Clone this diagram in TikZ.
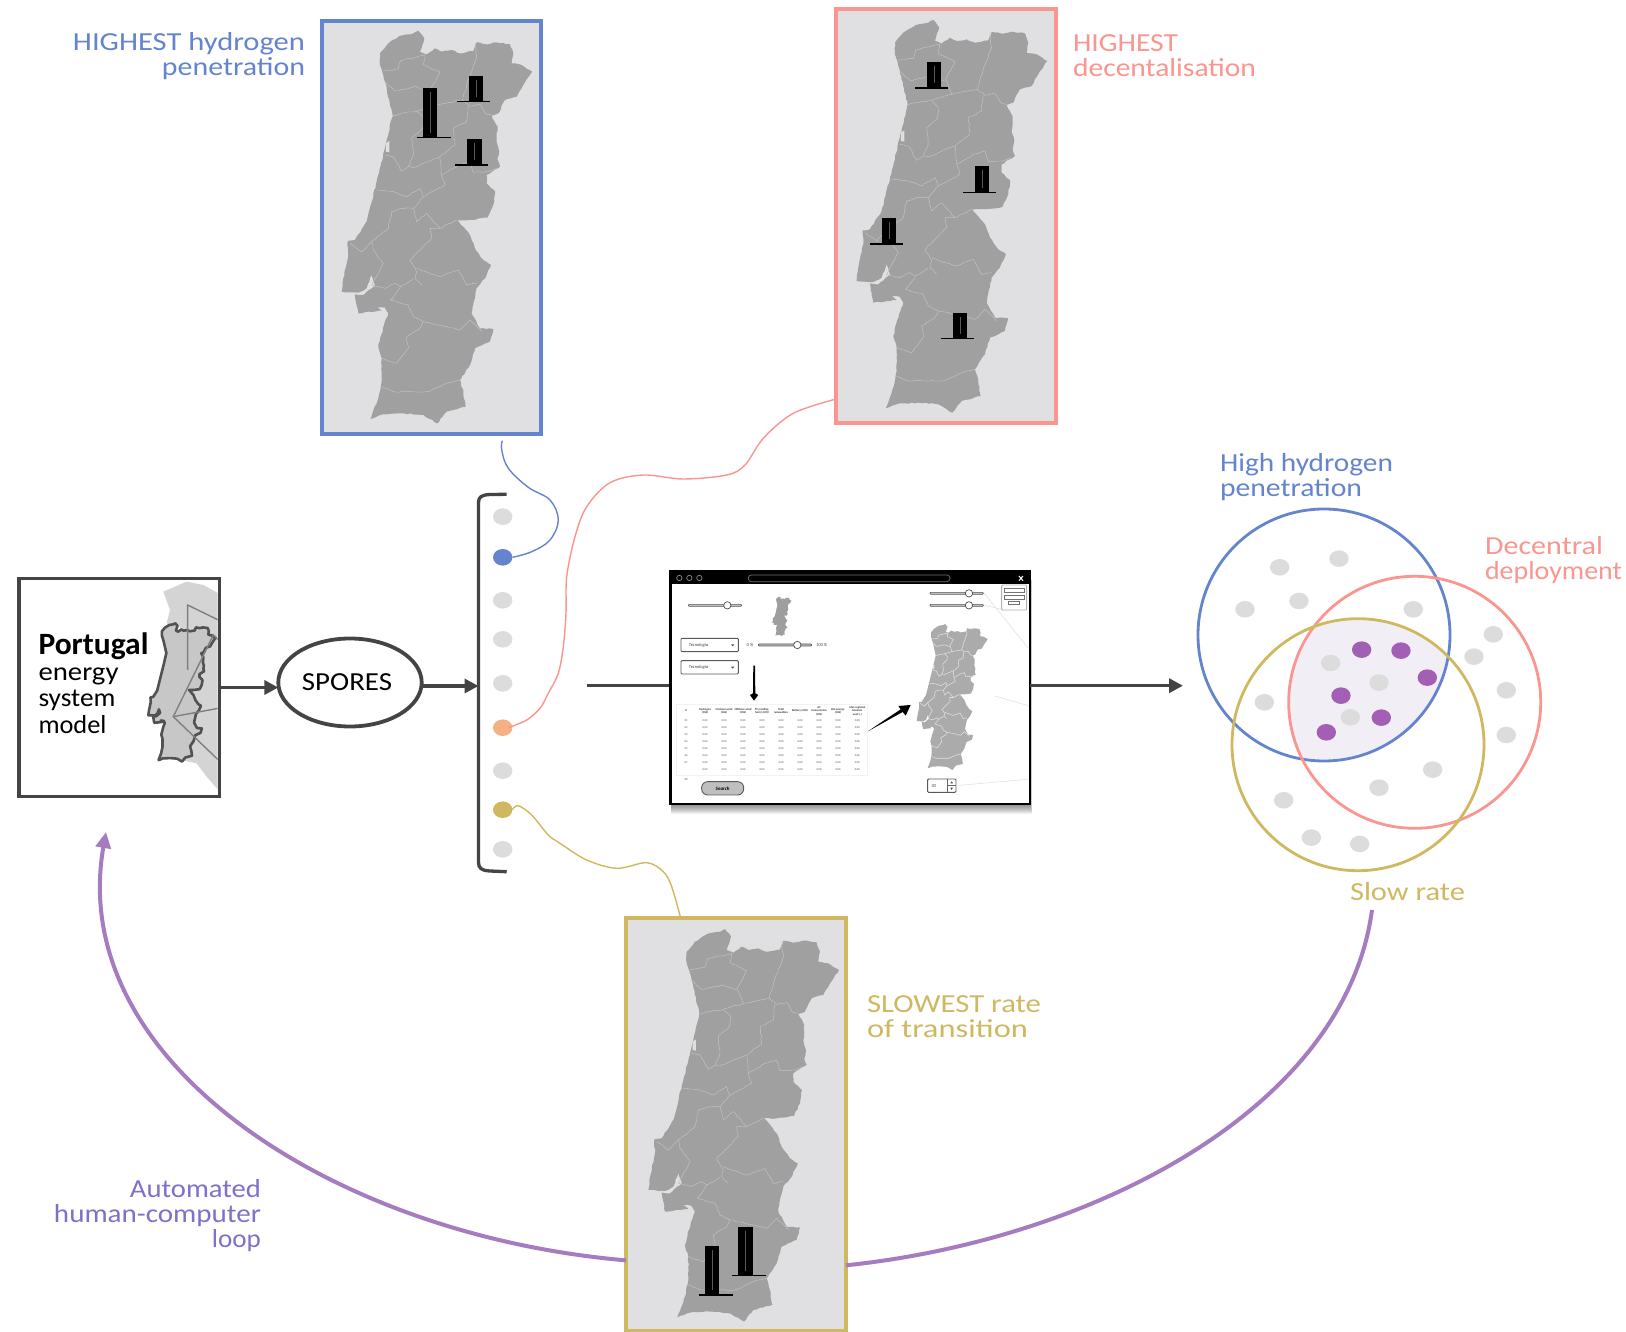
\documentclass[tikz,border=0pt]{standalone}
\usepackage{fontspec}
\usepackage{graphicx}
\setmainfont{Carlito}
\usetikzlibrary{arrows.meta,shapes.geometric,calc,decorations.pathmorphing}
\definecolor{cblue}{HTML}{6484CE}
\definecolor{csal}{HTML}{FB9590}
\definecolor{cgold}{HTML}{CFB960}
\definecolor{cpur}{HTML}{A57CC0}
\definecolor{cvio}{HTML}{8070C8}
\definecolor{cdark}{HTML}{444444}
\definecolor{cland}{HTML}{A0A0A0}
\definecolor{cpanel}{HTML}{E0E0E2}
\definecolor{cdot}{HTML}{DCDCDC}
\definecolor{cmag}{HTML}{A25FB4}
\definecolor{corange}{HTML}{F4B183}
\definecolor{ccore}{HTML}{F1EFF5}
\newcommand\fitw[2]{\resizebox{#1pt}{\height}{#2}}
\newcommand\ptoutline{(200,125) -- (225,95) -- (262,72) -- (300,65) -- (315,57) -- (333,80) -- (320,120) -- (340,128) -- (365,110) -- (385,120) -- (415,115) -- (440,125) -- (480,118) -- (490,92) -- (520,98) -- (550,92) -- (590,97) -- (600,125) -- (595,155) -- (625,160) -- (657,180) -- (630,220) -- (610,255) -- (575,265) -- (555,305) -- (535,312) -- (553,345) -- (550,390) -- (558,420) -- (553,445) -- (560,465) -- (520,490) -- (520,515) -- (546,540) -- (540,580) -- (522,618) -- (470,625) -- (432,625) -- (470,670) -- (485,710) -- (510,745) -- (533,760) -- (515,800) -- (490,830) -- (478,885) -- (475,905) -- (500,950) -- (540,952) -- (530,990) -- (485,1010) -- (470,1060) -- (440,1105) -- (450,1140) -- (457,1185) -- (400,1200) -- (372,1235) -- (330,1210) -- (270,1205) -- (210,1208) -- (172,1222) -- (195,1160) -- (205,1110) -- (205,1040) -- (195,1005) -- (212,940) -- (225,905) -- (215,888) -- (190,885) -- (205,897) -- (135,905) -- (125,848) -- (150,850) -- (185,820) -- (175,790) -- (160,830) -- (135,843) -- (85,840) -- (90,800) -- (105,730) -- (103,688) -- (125,685) -- (160,630) -- (190,510) -- (215,410) -- (238,310) -- (215,210) -- (200,160) -- cycle}
\newcommand\ptborders{%
\draw[ptline,ptjag] (210,178) -- (255,172) -- (262,147) -- (335,130) -- (330,158) -- (380,182) -- (352,235) -- (370,280);
\draw[ptline,ptjag] (215,212) -- (245,238) -- (310,225) -- (350,240);
\draw[ptline,ptjag] (238,312) -- (265,305) -- (310,298) -- (370,280) -- (448,265) -- (465,205) -- (490,140) -- (485,95);
\draw[ptline,ptjag] (448,265) -- (470,283) -- (500,278) -- (520,308) -- (535,310);
\draw[ptline,ptjag] (465,283) -- (460,330) -- (420,350) -- (425,400) -- (380,435) -- (300,468) -- (285,465) -- (265,478) -- (240,435) -- (215,430);
\draw[ptline,ptjag] (310,298) -- (332,320) -- (328,350) -- (295,380) -- (300,430) -- (285,465);
\draw[ptline,ptjag] (380,435) -- (385,490) -- (435,460) -- (470,450) -- (480,482) -- (525,480) -- (550,470);
\draw[ptline,ptjag] (385,490) -- (395,520) -- (330,555) -- (300,590) -- (265,590) -- (235,600) -- (225,650) -- (175,690) -- (145,720) -- (110,695);
\draw[ptline,ptjag] (190,535) -- (240,540) -- (280,555) -- (320,530) -- (330,555);
\draw[ptline,ptjag] (175,690) -- (180,715) -- (210,755) -- (175,820) -- (215,830) -- (245,815) -- (262,825) -- (300,802);
\draw[ptline,ptjag] (300,590) -- (310,630) -- (340,605) -- (380,650) -- (430,625);
\draw[ptline,ptjag] (380,650) -- (350,650) -- (355,680) -- (290,745) -- (310,780) -- (305,800) -- (325,820);
\draw[ptline,ptjag] (310,770) -- (380,795) -- (435,775) -- (460,820) -- (490,815);
\draw[ptline,ptjag] (262,825) -- (232,865) -- (285,880) -- (300,915) -- (330,930) -- (400,945) -- (440,955) -- (470,925) -- (505,960);
\draw[ptline,ptjag] (330,930) -- (320,950) -- (280,975) -- (285,1010) -- (250,1055) -- (205,1040);
\draw[ptline,ptjag] (205,1125) -- (240,1140) -- (290,1140) -- (345,1140) -- (400,1115) -- (440,1105);}
% [options] ox oy scale land border bay
\newcommand\ptmap[7][]{\begin{scope}[shift={(#2,#3)},x=#4pt,y=-#4pt,ptline/.style={draw=#6,line width=.55pt},#1]
\fill[#5,ptjag] \ptoutline;
\ptborders
\fill[#7] (218,395) -- (228,388) -- (228,422) -- (218,420) -- cycle;
\end{scope}}
\newcommand\tower[7]{\fill[black] (#1,#2) rectangle (#3,#4);
\draw[white,opacity=.35,line width=.4pt] ({(#1+#3)/2},{#2+4}) -- ({(#1+#3)/2},{#4-4});
\draw[black,line width=1.5pt] (#5,#7) -- (#6,#7);}
\tikzset{
 ptjag/.style={},
 jag/.style={ptjag/.style={decorate,decoration={random steps,segment length=3.2pt,amplitude=.55pt}}},
 framebox/.style={rectangle,fill=cpanel,line width=4pt,outer sep=0pt,inner sep=0pt,minimum width=220pt,minimum height=414pt},
 lab/.style={inner sep=0pt,outer sep=0pt,font=\fontsize{26}{25}\selectfont},
 bdot/.style={ellipse,fill=cdot,minimum width=19.4pt,minimum height=16.6pt,inner sep=0pt,outer sep=0pt},
 flow/.style={cdark,line width=3.5pt},
 flowhead/.style={-{Triangle[length=14pt,width=14pt]}},
 thinlink/.style={line width=1.4pt},
 vennc/.style={line width=2.8pt},
 gtxt/.style={inner sep=0pt,outer sep=0pt,text=black!75,font=\fontsize{4.5}{5}\selectfont\itshape},
 gcell/.style={inner sep=0pt,outer sep=0pt,text=black!70,font=\fontsize{2.8}{3}\selectfont},
 ghead/.style={inner sep=0pt,outer sep=0pt,text=black!80,align=center,font=\fontsize{2.9}{3.5}\selectfont\itshape\bfseries},
 gbox/.style={draw=black!65,fill=white,rounded corners=1pt,line width=.9pt},
 gtrack/.style={draw=black!65,fill=black!25,line width=.6pt,rounded corners=.8pt},
 gknob/.style={draw=black!70,fill=white,line width=.7pt},
 gguide/.style={draw=black!13,line width=.5pt},
}
\pgfmathsetseed{7}
\begin{document}
\begin{tikzpicture}[x=1pt,y=-1pt]
\useasboundingbox (0,0) rectangle (1626,1332);
\fill[white] (0,0) rectangle (1626,1332);

% framed maps -----------------------------------------------------------
\node[framebox,draw=cblue,minimum width=218.5pt,minimum height=412.7pt] (fblue) at (431.3,227.7) {};
\ptmap[jag]{313.3}{11.7}{0.3333}{cland}{black!25}{cpanel}
\tower{423.3}{88.3}{437.3}{137.3}{416.7}{450.7}{137.7}
\tower{469}{76}{483.3}{101}{457.3}{490}{101.7}
\tower{466.7}{139.3}{481.7}{164}{455}{488}{165}

\node[framebox,draw=csal] (fsal) at (946,216) {};
\ptmap[jag]{828.3}{1}{0.3333}{cland}{black!25}{cpanel}
\tower{927}{61.7}{941}{87.3}{915}{948.3}{88}
\tower{975}{166}{989.3}{191.7}{963.3}{996}{192.3}
\tower{881.7}{218.3}{896}{243.3}{870}{903.3}{244}
\tower{952.7}{313.3}{967.3}{338.3}{941}{974.3}{338.7}

\node[framebox,draw=cgold,minimum height=413pt] (fgold) at (736,1124.5) {};
\ptmap[jag]{620}{910}{0.3333}{cland}{black!25}{cpanel}
\tower{705}{1246}{719.3}{1294}{698.7}{732.7}{1295}
\tower{738.3}{1226.7}{752.7}{1275}{731.7}{765.7}{1275.7}

% labels of the maps (a multi-line node's base is its last line)
\node[lab,text=cblue,align=right,anchor=base east] (lblue) at (305,75.5) {\fitw{232}{HIGHEST hydrogen}\\\fitw{143}{penetration}};
\node[lab,text=csal,align=left,anchor=base west] (lsal) at (1073,76.5) {\fitw{105}{HIGHEST}\\\fitw{183}{decentalisation}};
\node[lab,text=cgold,align=left,anchor=base west] (lgold) at (867,1037.7) {\fitw{174}{SLOWEST rate}\\\fitw{161}{of transition}};
\node[lab,text=cvio,align=right,anchor=base east] (lloop) at (261,1247.5) {\fitw{131}{Automated}\\\fitw{207}{human-computer}\\\fitw{49}{loop}};

% model box --------------------------------------------------------------
\node[rectangle,draw=cdark,fill=white,line width=3.5pt,minimum width=200.3pt,minimum height=218.4pt,outer sep=0pt,inner sep=0pt] (model) at (119.2,687.5) {};
\begin{scope}
\clip (21,580) rectangle (217.5,795);
\begin{scope}[shift={(0,560)},x=.3333pt,y=-.3333pt]
\fill[black!17] (490,95) -- (560,65) -- (610,75) -- (655,100) -- (655,690) -- (620,650) -- (590,610) -- (540,600) -- (540,200) -- (500,190) -- (510,150) -- cycle;
\end{scope}
\ptmap{138.4}{616.6}{0.1174}{black!22}{black!22}{black!22}
\begin{scope}[shift={(138.4,616.6)},x=.1174pt,y=-.1174pt]
\draw[black!68,line width=2.6pt,line join=round] \ptoutline;
\end{scope}
\begin{scope}[shift={(0,560)},x=.3333pt,y=-.3333pt]
\draw[black!50,line width=1.4pt] (655,180) -- (563,135) -- (563,330);
\draw[black!50,line width=1.4pt] (655,240) -- (640,225) -- (520,470) -- (655,600);
\draw[black!50,line width=1.4pt] (520,470) -- (655,445);
\end{scope}
\end{scope}
\node[rectangle,draw=cdark,line width=3.5pt,minimum width=200.3pt,minimum height=218.4pt,outer sep=0pt,inner sep=0pt] at (119.2,687.5) {};
\node[inner sep=0pt,outer sep=0pt,align=left,anchor=base west,font=\fontsize{26}{26.5}\selectfont] (lmodel) at (38.5,733) {\fitw{110}{\fontsize{31}{26.5}\selectfont\bfseries Portugal}\\[-1pt]\fitw{80}{energy}\\\fitw{77}{system}\\\fitw{68}{model}};

% SPORES + bracket -------------------------------------------------------
\coordinate (brk) at (478.5,686);
\node[ellipse,draw=cdark,fill=white,line width=3.8pt,minimum width=143.4pt,minimum height=88pt,inner sep=0pt,outer sep=0pt] (spores) at (350,682.5) {\hspace*{-6pt}\raisebox{-4pt}{\fontsize{26}{26}\selectfont\fitw{90}{SPORES}}};
\draw[flow,flowhead] (model.east) -- (model.east -| spores.west);
\draw[flow,flowhead] (spores.east |- brk) -- (brk);
\draw[cdark,line width=3.3pt] (506.7,494.3) -- (490,494.5) .. controls (481,495) and (478.5,497) .. (478.5,503) -- (478.5,862) .. controls (478.5,868) and (481,870.5) .. (490,871) -- (506.7,871.7);

\node[bdot] (d1) at (502.7,516.7) {};
\node[bdot,fill=cblue] (dblue) at (502.7,557.3) {};
\node[bdot] (d3) at (502.7,600.3) {};
\node[bdot] (d4) at (502.7,639.3) {};
\node[bdot] (d5) at (502.7,683.3) {};
\node[bdot,fill=corange] (dorange) at (502.7,727.7) {};
\node[bdot] (d7) at (502.7,770.7) {};
\node[bdot,fill=cgold] (dgold) at (502.7,809.7) {};
\node[bdot] (d9) at (502.7,849.3) {};

% connectors maps <-> dots
\coordinate (blueTail) at (502.3,440.7);
\coordinate (orangeIn) at (508.3,727.7);
\draw[cblue,thinlink,line join=round] plot[smooth,tension=.6] coordinates {(blueTail) (501.7,450) (508.3,468.3) (528.3,487.3) (550,500) (558.3,520) (550,540) (531.7,551.7) (dblue.east)};
\draw[csal,thinlink,line join=round] plot[smooth,tension=.55] coordinates {(orangeIn) (526.7,720) (540,708.3) (548.3,693.3) (558.3,673.3) (563.3,646.7) (566,613.3) (566.7,576.7) (575,536.7) (586.7,506.7) (610,482.7) (643.3,475) (683.3,479) (726.7,475) (745,465) (763.3,438.3) (793.3,413.3) (fsal.239.5)};
\draw[cgold,thinlink,line join=round] plot[smooth,tension=.55] coordinates {(dgold.east) (518.3,805.7) (531.7,815) (548.3,835) (560,843.3) (586.7,860) (616.7,868.3) (646.7,862.7) (663.3,871.7) (671.7,886.7) (fgold.105.5)};

% big loop
\coordinate (loopStart) at (1372,910);
\coordinate (loopEnd) at (106,832);
\draw[cpur,line width=4pt] (loopStart) .. controls (1345,1110) and (1090,1240) .. (fgold.308.7);
\draw[cpur,line width=4pt,-{Triangle[length=16pt,width=15pt]}] (fgold.231.3) .. controls (330,1235) and (66,1060) .. (loopEnd);

% GUI window -------------------------------------------------------------
\coordinate (guiIn) at (586.7,685.7);
\coordinate (guiOut) at (1183,685.7);
\begin{scope}[shift={(650,550)},x=.3333pt,y=-.3333pt]
\foreach \d in {3,6,...,30} {\fill[black,opacity=.055] (62,90) rectangle (1140+\d*.25,762+\d);}
\end{scope}
\draw[flow] (guiIn) -- (guiIn -| 680,0);
\node[rectangle,draw=black,fill=white,line width=1.2pt,minimum width=360pt,minimum height=233.3pt,outer sep=0pt,inner sep=0pt] (gui) at (850,687.3) {};
\draw[flow,flowhead] (guiIn -| gui.east) -- (guiOut);
\begin{scope}[shift={(650,550)},x=.3333pt,y=-.3333pt]
\fill[black] (60,62) rectangle (1140,103);
\draw[black,line width=2.6pt] (61,62) -- (61,762);
\draw[black,line width=2pt] (60,762) -- (1140,762);
\draw[black,line width=1.4pt] (1139,62) -- (1139,762);
\foreach \xx in {88,118,148} {\draw[black!45,line width=.7pt] (\xx,84) circle[radius=8];}
\draw[black!55,line width=.7pt,rounded corners=3pt] (295,75) rectangle (900,95);
\draw[white,line width=1pt] (1107,78) -- (1119,92) (1119,78) -- (1107,92);
% sliders
\foreach \xa/\xb/\yy/\kn in {115/275/166/232,840/1000/130/957,840/1000/166/957,325/485/285/442} {
  \draw[gtrack] (\xa,\yy-3) rectangle (\xb,\yy+3);
  \draw[gknob] (\kn,\yy) circle[radius=11];
}
\node[gtxt] (gz) at (300,285) {0 \%};
\node[gtxt] (gc) at (515,285) {100 \%};
% dropdowns
\draw[gbox] (93,265) rectangle (265,305);
\draw[gbox] (93,332) rectangle (265,372);
\node[gtxt] (dd1) at (146,285) {Tecnologia};
\node[gtxt] (dd2) at (146,352) {Tecnologia};
\fill[black!70] (243,283) -- (253,283) -- (248,289) -- cycle;
\fill[black!70] (243,350) -- (253,350) -- (248,356) -- cycle;
% arrows
\fill[black] (310,347) -- (315,347) -- (316,430) -- (325,435) -- (312,452) -- (300,435) -- (309,430) -- cycle;
\fill[black] (652,545) -- (752,478) -- (745,468) -- (782,465) -- (767,497) -- (758,486) -- cycle;
% table
\draw[black!5,fill=white,line width=.5pt] (80,463) rectangle (652,675);
\node[ghead] (th0) at (108,483) {\#};
\foreach \xx/\hh [count=\c] in {165/{Hydrogen\\(GW)},222/{Onshore wind\\(GW)},279/{Offshore wind\\(GW)},336/{PV (rooftop,\\farm) (GW)},393/{Total\\renewables},450/{Battery (GW)},507/{AC\\transmission\\(GW)},564/{Bio-energy\\(GW)},622/{Max regional\\biomass\\used (-)}} {
  \node[ghead] (th\c) at (\xx,483) {\hh};
}
\foreach \yy [count=\r] in {513,534,555,576,597,618,638,659} {
  \foreach \xx [count=\c] in {165,222,279,336,393,450,507,564,622} {
    \node[gcell] (tc\r-\c) at (\xx,\yy) {0.00};
  }
}
\foreach \yy/\tt [count=\r] in {513/01,534/02,555/03,576/04,597/05,618/06,638/07} {
  \node[gcell] (tid\r) at (108,\yy) {\tt};
}
\node[gcell] (tfoot) at (108,690) {08};
% button
\draw[black!65,fill=black!25,line width=.9pt,rounded corners=6pt] (155,695) rectangle (281,735);
\node[gtxt,text=black,font=\fontsize{5}{6}\selectfont\itshape\bfseries] (btn) at (218,715) {Search};
% spinner
\draw[gbox] (833,687) rectangle (918,727);
\draw[black!60,line width=.6pt] (893,687) -- (893,727) (893,707) -- (918,707);
\node[gtxt] (spin) at (851,707) {30};
\fill[black!70] (901,700) -- (909,700) -- (905,694) -- cycle;
\fill[black!70] (901,713) -- (909,713) -- (905,720) -- cycle;
% mini panel
\draw[gbox,draw=black!30] (1055,105) rectangle (1130,180);
\draw[black!55,line width=.5pt] (1063,116) rectangle (1124,126) (1063,137) rectangle (1124,147) (1075,153) rectangle (1108,163);
% guide lines
\draw[gguide] (1003,130) -- (1135,295);
\draw[gguide] (1003,166) -- (1055,178);
\draw[gguide] (1035,438) -- (1135,467);
\draw[gguide] (918,707) -- (1135,688);
\end{scope}
\ptmap{769.5}{594.8}{0.0334}{black!38}{black!38}{black!38}
\begin{scope}[ptline/.style={}]\end{scope}
\ptmap{906.2}{616.9}{0.124}{black!33}{black!12}{black!12}

% Venn -------------------------------------------------------------------
\begin{scope}
\clip (1324,635) circle[radius=126];
\clip (1414.7,702.3) circle[radius=126];
\fill[ccore] (1358,744.7) circle[radius=126];
\end{scope}
\begin{scope}[shift={(1180,440)},x=.3333pt,y=-.3333pt]
\foreach \xx/\yy [count=\n] in {299/382,477/356,195/508,357/483,700/508,940/583,882/650,979/751,979/885,253/787,758/989,597/1043,311/1081,394/1193,539/1212,452/669,597/728,511/832} {
  \node[bdot] (v\n) at (\xx,\yy) {};
}
\foreach \xx/\yy [count=\n] in {545/629,663/632,742/713,483/767,604/833,439/877} {
  \node[bdot,fill=cmag] (m\n) at (\xx,\yy) {};
}
\end{scope}
\node[circle,draw=cblue,vennc,minimum size=252pt,inner sep=0pt,outer sep=0pt] (cH) at (1324,635) {};
\node[circle,draw=csal,vennc,minimum size=252pt,inner sep=0pt,outer sep=0pt] (cD) at (1414.7,702.3) {};
\node[circle,draw=cgold,vennc,minimum size=252pt,inner sep=0pt,outer sep=0pt] (cS) at (1358,744.7) {};
\node[lab,text=cblue,align=left,anchor=base west] (lH) at (1220,496.7) {\fitw{173}{High hydrogen}\\\fitw{142}{penetration}};
\node[lab,text=csal,align=left,anchor=base west] (lD) at (1485,579) {\fitw{118}{Decentral}\\\fitw{137}{deployment}};
\node[lab,text=cgold,anchor=base west] (lS) at (1350,900.7) {\fitw{115}{Slow rate}};
\end{tikzpicture}
\end{document}
